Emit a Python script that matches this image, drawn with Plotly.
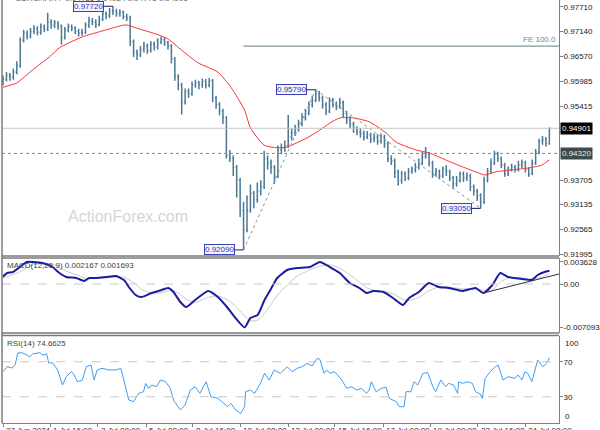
import plotly.graph_objects as go

# ---------------- data ----------------
bar_close = [0.9604, 0.9612, 0.9608, 0.9620, 0.9635, 0.9694, 0.9710, 0.9702, 0.9714, 0.9720,
             0.9712, 0.9725, 0.9720, 0.9735, 0.9728, 0.9732, 0.9725, 0.9700, 0.9718, 0.9725,
             0.9722, 0.9715, 0.9710, 0.9712, 0.9728, 0.9738, 0.9735, 0.9730, 0.9742, 0.9755,
             0.9750, 0.9762, 0.9760, 0.9755, 0.9758, 0.9748, 0.9745, 0.9690, 0.9665, 0.9660,
             0.9672, 0.9680, 0.9670, 0.9685, 0.9678, 0.9690, 0.9695, 0.9688, 0.9680, 0.9650,
             0.9610, 0.9590, 0.9550, 0.9575, 0.9570, 0.9590, 0.9595, 0.9590, 0.9598, 0.9590,
             0.9600, 0.9560, 0.9545, 0.9530, 0.9515, 0.9428, 0.9420, 0.9400, 0.9370, 0.9300,
             0.9255, 0.9300, 0.9340, 0.9325, 0.9345, 0.9355, 0.9420, 0.9410, 0.9400, 0.9380,
             0.9440, 0.9445, 0.9450, 0.9470, 0.9480, 0.9490, 0.9500, 0.9515, 0.9525, 0.9545,
             0.9555, 0.9570, 0.9560, 0.9545, 0.9530, 0.9555, 0.9545, 0.9540, 0.9550, 0.9525,
             0.9510, 0.9500, 0.9490, 0.9482, 0.9478, 0.9470, 0.9475, 0.9465, 0.9470, 0.9460,
             0.9470, 0.9455, 0.9420, 0.9415, 0.9390, 0.9370, 0.9385, 0.9375, 0.9390, 0.9395,
             0.9400, 0.9410, 0.9425, 0.9430, 0.9410, 0.9385, 0.9390, 0.9380, 0.9395, 0.9390,
             0.9375, 0.9362, 0.9370, 0.9385, 0.9375, 0.9380, 0.9355, 0.9345, 0.9335, 0.9320,
             0.9370, 0.9390, 0.9410, 0.9430, 0.9420, 0.9405, 0.9385, 0.9395, 0.9400, 0.9395,
             0.9405, 0.9410, 0.9395, 0.9385, 0.9410, 0.9435, 0.9460, 0.9465, 0.9455, 0.94901]

bar_high = [0.9612, 0.9620, 0.9618, 0.9628, 0.9645, 0.9700, 0.9718, 0.9716, 0.9722, 0.9728,
            0.9726, 0.9732, 0.9730, 0.9757, 0.9742, 0.9740, 0.9738, 0.9730, 0.9724, 0.9732,
            0.9730, 0.9726, 0.9720, 0.9720, 0.9735, 0.9748, 0.9745, 0.9742, 0.9750, 0.9762,
            0.9760, 0.9768, 0.9772, 0.9766, 0.9765, 0.9762, 0.9755, 0.9750, 0.9695, 0.9672,
            0.9680, 0.9690, 0.9686, 0.9692, 0.9690, 0.9698, 0.9702, 0.9700, 0.9692, 0.9685,
            0.9655, 0.9615, 0.9595, 0.9582, 0.9582, 0.9598, 0.9602, 0.9600, 0.9605, 0.9604,
            0.9606, 0.9604, 0.9565, 0.9550, 0.9535, 0.9518, 0.9440, 0.9428, 0.9405, 0.9375,
            0.9320, 0.9335, 0.9360, 0.9345, 0.9365, 0.9370, 0.9438, 0.9428, 0.9418, 0.9405,
            0.9450, 0.9455, 0.9462, 0.9521, 0.9490, 0.9498, 0.9510, 0.9525, 0.9535, 0.9552,
            0.9565, 0.9579, 0.9576, 0.9565, 0.9550, 0.9562, 0.9560, 0.9552, 0.9560, 0.9554,
            0.9530, 0.9518, 0.9505, 0.9495, 0.9490, 0.9485, 0.9484, 0.9480, 0.9478, 0.9476,
            0.9478, 0.9475, 0.9460, 0.9428, 0.9420, 0.9395, 0.9392, 0.9390, 0.9398, 0.9402,
            0.9410, 0.9420, 0.9435, 0.9447, 0.9435, 0.9415, 0.9398, 0.9395, 0.9402, 0.9405,
            0.9395, 0.9380, 0.9380, 0.9390, 0.9390, 0.9388, 0.9385, 0.9360, 0.9350, 0.9340,
            0.9378, 0.9398, 0.9420, 0.9438, 0.9436, 0.9425, 0.9410, 0.9402, 0.9408, 0.9405,
            0.9415, 0.9418, 0.9415, 0.9400, 0.9418, 0.9442, 0.9466, 0.9472, 0.9470, 0.9492]

bar_low = [0.9590, 0.9598, 0.9600, 0.9602, 0.9615, 0.9630, 0.9688, 0.9695, 0.9698, 0.9708,
           0.9705, 0.9706, 0.9712, 0.9715, 0.9720, 0.9722, 0.9718, 0.9683, 0.9695, 0.9712,
           0.9714, 0.9708, 0.9702, 0.9704, 0.9708, 0.9722, 0.9728, 0.9722, 0.9726, 0.9738,
           0.9742, 0.9745, 0.9752, 0.9748, 0.9748, 0.9742, 0.9738, 0.9680, 0.9655, 0.9648,
           0.9655, 0.9665, 0.9662, 0.9665, 0.9670, 0.9672, 0.9684, 0.9680, 0.9672, 0.9640,
           0.9600, 0.9578, 0.9522, 0.9545, 0.9560, 0.9565, 0.9584, 0.9580, 0.9584, 0.9582,
           0.9585, 0.9550, 0.9535, 0.9520, 0.9500, 0.9420, 0.9412, 0.9380, 0.9330, 0.9285,
           0.9209, 0.9250, 0.9295, 0.9305, 0.9318, 0.9335, 0.9350, 0.9395, 0.9385, 0.9362,
           0.9375, 0.9430, 0.9436, 0.9445, 0.9462, 0.9472, 0.9482, 0.9495, 0.9508, 0.9520,
           0.9538, 0.9550, 0.9552, 0.9535, 0.9520, 0.9525, 0.9538, 0.9532, 0.9535, 0.9515,
           0.9500, 0.9490, 0.9480, 0.9474, 0.9468, 0.9462, 0.9465, 0.9456, 0.9458, 0.9452,
           0.9455, 0.9445, 0.9412, 0.9405, 0.9375, 0.9358, 0.9362, 0.9368, 0.9370, 0.9385,
           0.9388, 0.9395, 0.9405, 0.9420, 0.9402, 0.9376, 0.9378, 0.9372, 0.9375, 0.9380,
           0.9368, 0.9350, 0.9355, 0.9365, 0.9366, 0.9368, 0.9345, 0.9335, 0.9322, 0.9305,
           0.9315, 0.9365, 0.9385, 0.9405, 0.9412, 0.9398, 0.9378, 0.9380, 0.9390, 0.9388,
           0.9390, 0.9398, 0.9388, 0.9378, 0.9382, 0.9405, 0.9430, 0.9452, 0.9448, 0.9452]

first_open = 0.9598

ema_bar = [0, 4, 8.6, 13.5, 16.4, 23, 28, 32.9, 35.7, 39.5, 45.2, 48.1, 51.9, 56.8, 62.5,
           66.3, 70.3, 72, 76, 79.8, 82.7, 88.5, 92.2, 95.1, 98, 102, 106.6, 111.5, 114.4,
           120.2, 124, 128.8, 133.7, 138.3, 140.3, 143.2, 148.1, 152.7, 154.8, 156.8, 159]
ema_val = [0.9585, 0.9595, 0.9625, 0.9655, 0.9676, 0.9701, 0.9713, 0.9724, 0.9729, 0.9720,
           0.9706, 0.9696, 0.9671, 0.9641, 0.9620, 0.9585, 0.9532, 0.9491, 0.9451, 0.9445,
           0.9447, 0.9468, 0.9486, 0.9502, 0.9514, 0.9514, 0.9505, 0.9479, 0.9458, 0.9440,
           0.9433, 0.9417, 0.9401, 0.9387, 0.9382, 0.9389, 0.9394, 0.9398, 0.9401, 0.9405,
           0.9417]

macd_bar = [0, 1.2, 2.9, 4.9, 6.9, 8.6, 11.5, 14.4, 16.4, 18.4, 21.3, 23.6, 25.1, 27.1, 30.0,
            32.9, 35.2, 36.6, 38.6, 40.3, 43.2, 46.1, 48.1, 49.6, 51.6, 53.3, 55.9, 59.7, 62.5,
            65.4, 67.4, 70.3, 72.0, 74.1, 76.1, 77.8, 79.8, 82.7, 85.6, 89.3, 92.2, 95.1, 98.0,
            100.9, 103.7, 105.8, 107.8, 110.7, 113.5, 116.4, 118.2, 121.0, 123.9, 126.8, 129.7,
            133.7, 137.5, 139.8, 142.4, 144.7, 147.0, 151.0, 153.9, 155.6, 157.6, 159]
macd_val = [0.00119, 0.00179, 0.00196, 0.00277, 0.00359, 0.00359, 0.00342, 0.00277, 0.00179, 0.00114,
            0.00098, 0.00049, 0.00098, 0.00098, 0.00114, 0.00130, 0.00065, -0.00049, -0.00179, -0.00212,
            -0.00147, -0.00098, -0.00065, -0.00130, -0.00293, -0.00375, -0.00261, -0.00114, -0.00212, -0.00391,
            -0.00538, -0.00709, -0.00554, -0.00505, -0.00261, -0.00098, 0.00098, 0.00228, 0.00261, 0.00277,
            0.00359, 0.00277, 0.00179, 0.00016, -0.00065, -0.00147, -0.00114, -0.00130, -0.00228, -0.00342,
            -0.00228, -0.00130, 0.00016, -0.00049, -0.00065, -0.00114, -0.00065, -0.00147, -0.00016, 0.00179,
            0.00114, 0.00082, 0.00065, 0.00147, 0.00196, 0.002167]
signal_val = [0.00090, 0.00120, 0.00150, 0.00200, 0.00260, 0.00310, 0.00340, 0.00320, 0.00270, 0.00210,
              0.00150, 0.00100, 0.00090, 0.00090, 0.00100, 0.00115, 0.00110, 0.00070, 0.00000, -0.00090,
              -0.00150, -0.00140, -0.00110, -0.00110, -0.00170, -0.00250, -0.00300, -0.00220, -0.00190, -0.00260,
              -0.00350, -0.00520, -0.00600, -0.00590, -0.00480, -0.00350, -0.00180, -0.00020, 0.00130, 0.00230,
              0.00290, 0.00310, 0.00260, 0.00150, 0.00030, -0.00060, -0.00100, -0.00120, -0.00160, -0.00250,
              -0.00270, -0.00220, -0.00110, -0.00050, -0.00050, -0.00080, -0.00080, -0.00100, -0.00100, 0.00030,
              0.00100, 0.00100, 0.00080, 0.00090, 0.00130, 0.001693]
macd_trend_bar = [139.8, 161.8]
macd_trend_val = [-0.00147, 0.00163]

rsi_bar = [0, 1.2, 2.6, 3.5, 4.3, 5.5, 6.9, 7.8, 8.6, 10.7, 11.5, 12.7, 13.3, 14.4, 15.9, 17.3,
           18.4, 19.9, 20.7, 21.6, 23.1, 24.2, 25.6, 26.5, 27.4, 28.8, 30.8, 32.9, 34.3, 35.2,
           36.6, 38.0, 39.5, 40.9, 41.5, 42.4, 43.2, 44.7, 45.8, 47.3, 48.7, 49.6, 51.6, 53.0,
           54.5, 55.9, 57.3, 59.1, 60.5, 62.5, 64.6, 65.4, 66.3, 67.7, 69.2, 70.3, 70.6, 72.0,
           73.2, 74.9, 76.1, 77.5, 78.9, 80.7, 82.7, 84.1, 85.6, 87.0, 88.5, 89.9, 91.4, 92.2,
           93.4, 94.2, 95.1, 96.5, 98.6, 100.0, 101.4, 102.9, 104.3, 105.8, 106.6, 107.2, 108.6,
           110.1, 111.5, 112.4, 114.4, 115.3, 116.7, 117.3, 118.7, 119.6, 120.7, 122.2, 123.6,
           125.1, 125.9, 127.4, 128.8, 129.7, 131.1, 132.3, 132.6, 133.7, 135.2, 136.6, 137.5,
           138.9, 139.5, 140.3, 141.8, 143.2, 144.1, 145.5, 147.0, 149.0, 149.9, 151.0, 151.9,
           152.7, 153.9, 155.6, 157.1, 158.2, 159]
rsi_val = [58.6, 64.4, 62.8, 66.3, 80.0, 80.4, 77.7, 75.8, 78.9, 80.4, 77.7, 78.9, 68.6, 68.9, 60.6, 43.4,
           52.9, 58.7, 54.9, 47.2, 49.1, 64.3, 66.3, 49.1, 60.6, 62.5, 60.6, 60.6, 62.5, 49.1,
           26.3, 24.4, 33.9, 35.8, 45.3, 39.6, 43.4, 41.5, 49.1, 47.2, 39.6, 26.3, 14.9, 20.6,
           37.7, 41.5, 33.9, 47.2, 30.0, 28.2, 20.6, 18.7, 22.5, 14.9, 11.1, 18.7, 35.8, 37.7,
           33.9, 45.3, 56.8, 49.1, 60.6, 56.8, 64.3, 58.6, 62.5, 64.3, 68.2, 65.1, 73.9, 72.8,
           56.8, 60.6, 56.8, 58.6, 49.1, 39.6, 41.5, 37.7, 39.6, 33.9, 37.7, 47.2, 35.8,
           39.6, 40.8, 28.2, 24.4, 18.6, 18.6, 35.8, 35.8, 47.2, 43.4, 56.8, 57.5,
           41.5, 35.8, 49.1, 41.5, 45.3, 43.4, 33.9, 47.2, 45.3, 47.2, 45.3, 35.8,
           33.1, 28.2, 51.0, 58.6, 64.3, 66.3, 49.1, 52.9, 51.0, 54.9, 49.1, 58.6,
           56.8, 47.2, 72.0, 64.3, 68.2, 74.66]

swing_bars = [32, 91, 70, 139]
swing_prices = [0.97720, 0.95790, 0.92090, 0.93050]
trend_bars = [70, 91, 139]
trend_prices = [0.92090, 0.95790, 0.93050]

price_now = 0.94901
level_price = 0.94320
fe_price = 0.9680
fe_start_bar = 70

price_ticks = [0.97710, 0.97140, 0.96570, 0.95985, 0.95415, 0.93705, 0.93135, 0.92565, 0.91995]
macd_ticks = [0.003628, 0.0, -0.007093]
macd_tick_text = ["0.003628", "0.00", "-0.007093"]
rsi_ticks = [70, 30]

time_tick_bars = [0, 13.8, 27.6, 41.7, 55.2, 69, 83, 96.5, 110.6, 124.4, 138.2, 152]
time_tick_labels = ["27 Jun 2024", "1 Jul 16:00", "3 Jul 08:00", "5 Jul 00:00", "8 Jul 16:00",
                    "10 Jul 08:00", "12 Jul 00:00", "15 Jul 16:00", "17 Jul 08:00", "19 Jul 00:00",
                    "22 Jul 16:00", "24 Jul 08:00"]

header_text = "EURCHF,H4  0.94786 0.94924 0.94771 0.94901"
macd_title = "MACD(12,26,9) 0.002167 0.001693"
rsi_title = "RSI(14) 74.6625"
watermark = "ActionForex.com"

# ---------------- figure ----------------
bar_open = [first_open] + bar_close[:-1]
bar_idx = list(range(len(bar_close)))

FONT = "Liberation Sans, Arial, sans-serif"
AX = "#808080"
XR = [-0.3, 161.8]

fig = go.Figure()

fig.add_trace(go.Ohlc(
    x=bar_idx, open=bar_open, high=bar_high, low=bar_low, close=bar_close,
    increasing=dict(line=dict(color="#4a7895", width=1.5)),
    decreasing=dict(line=dict(color="#4a7895", width=1.5)),
    tickwidth=0.3, hoverinfo="skip", xaxis="x", yaxis="y", showlegend=False))

fig.add_trace(go.Scatter(x=ema_bar, y=ema_val, mode="lines", line=dict(color="#ff3030", width=1, shape="spline", smoothing=0.6),
                         hoverinfo="skip", xaxis="x", yaxis="y", showlegend=False))

fig.add_trace(go.Scatter(x=trend_bars[:2], y=trend_prices[:2], mode="lines", line=dict(color="#8a9598", width=1, dash="dot"),
                         hoverinfo="skip", xaxis="x", yaxis="y", showlegend=False))
fig.add_trace(go.Scatter(x=trend_bars[1:], y=trend_prices[1:], mode="lines", line=dict(color="#8a9598", width=1, dash="dot"),
                         hoverinfo="skip", xaxis="x", yaxis="y", showlegend=False))

# MACD
fig.add_trace(go.Scatter(x=macd_bar, y=signal_val, mode="lines", line=dict(color="#c8c8c8", width=1, shape="spline", smoothing=0.5),
                         hoverinfo="skip", xaxis="x2", yaxis="y2", showlegend=False))
fig.add_trace(go.Scatter(x=macd_bar, y=macd_val, mode="lines", line=dict(color="#1c1ca0", width=2, shape="spline", smoothing=0.5),
                         hoverinfo="skip", xaxis="x2", yaxis="y2", showlegend=False))
fig.add_trace(go.Scatter(x=macd_trend_bar, y=macd_trend_val, mode="lines", line=dict(color="#303030", width=1),
                         hoverinfo="skip", xaxis="x2", yaxis="y2", showlegend=False))

# RSI
fig.add_trace(go.Scatter(x=rsi_bar, y=rsi_val, mode="lines", line=dict(color="#3f9cf4", width=1),
                         hoverinfo="skip", xaxis="x3", yaxis="y3", showlegend=False))

H = 423.0
def dom(top_px, bot_px):
    return [1 - bot_px / H, 1 - top_px / H]

yfont = dict(family=FONT, size=8, color="#202020")
common_y = dict(side="right", showgrid=False, zeroline=False, ticks="outside", ticklen=3,
                tickcolor=AX, showline=True, linecolor=AX, linewidth=1, tickfont=yfont, fixedrange=True,
                ticklabelstandoff=-1)
common_x = dict(range=XR, showgrid=False, zeroline=False, showticklabels=False, fixedrange=True)

fig.update_layout(
    width=600, height=430, margin=dict(l=2, r=35, t=0, b=7),
    paper_bgcolor="white", plot_bgcolor="white", showlegend=False,
    xaxis=dict(domain=[0, 1], anchor="y", rangeslider=dict(visible=False), **common_x),
    xaxis2=dict(domain=[0, 1], anchor="y2", matches="x", **common_x),
    xaxis3=dict(domain=[0, 1], anchor="y3", matches="x", ticks="outside", ticklen=3, tickcolor=AX,
                tickvals=time_tick_bars, showline=True, linecolor=AX, **common_x),
    yaxis=dict(domain=dom(0, 256), range=[0.91949, 0.97865], anchor="x",
               tickvals=price_ticks, ticktext=[f"{v:.5f}" for v in price_ticks], **common_y),
    yaxis2=dict(domain=dom(258, 333), range=[-0.007987, 0.004238], anchor="x2",
                tickvals=macd_ticks, ticktext=macd_tick_text, **common_y),
    yaxis3=dict(domain=dom(335.5, 423), range=[0, 100], anchor="x3",
                tickvals=rsi_ticks, ticktext=[str(v) for v in rsi_ticks], **common_y),
)

shapes = []
shapes.append(dict(type="line", xref="x domain", yref="y", x0=0, x1=1, y0=price_now, y1=price_now,
                   line=dict(color="#c4c4c4", width=1)))
shapes.append(dict(type="line", xref="x domain", yref="y", x0=0, x1=1, y0=level_price, y1=level_price,
                   line=dict(color="#7f8a8c", width=1, dash="dot")))
shapes.append(dict(type="line", xref="x", yref="y", x0=fe_start_bar, x1=XR[1], y0=fe_price, y1=fe_price,
                   line=dict(color="#5d7d86", width=1)))
shapes.append(dict(type="line", xref="x2 domain", yref="y2", x0=0, x1=1, y0=0, y1=0,
                   line=dict(color="#c8c8c8", width=1, dash="dash")))
for lv in rsi_ticks:
    shapes.append(dict(type="line", xref="x3 domain", yref="y3", x0=0, x1=1, y0=lv, y1=lv,
                       line=dict(color="#c8c8c8", width=1, dash="dash")))
for yy in [dom(0, 256)[0], dom(258, 333)[1], dom(258, 333)[0], dom(335.5, 423)[1]]:
    shapes.append(dict(type="line", xref="paper", yref="paper", x0=0, x1=1, y0=yy, y1=yy,
                       line=dict(color="#7a7a7a", width=1.5)))
shapes.append(dict(type="line", xref="paper", yref="paper", x0=0, x1=0, y0=0, y1=1,
                   line=dict(color="#7a7a7a", width=1.5)))
fig.update_layout(shapes=shapes)

ann = []
for b, p in zip(swing_bars, swing_prices):
    ann.append(dict(x=b, y=p, xref="x", yref="y", text=f"{p:.5f}", showarrow=True, arrowhead=0,
                    arrowwidth=1, arrowcolor="#1a1a70", ax=-24, ay=0,
                    font=dict(family=FONT, size=8, color="#3434b0"), bgcolor="#f3f3ff",
                    bordercolor="#4040b8", borderwidth=1, borderpad=0))
ann.append(dict(x=1, y=price_now, xref="paper", yref="y", xanchor="left", xshift=1, text=f"{price_now:.5f}",
                showarrow=False, bgcolor="#000000", font=dict(family=FONT, size=8, color="white"), borderpad=1))
ann.append(dict(x=1, y=level_price, xref="paper", yref="y", xanchor="left", xshift=1, text=f"{level_price:.5f}",
                showarrow=False, bgcolor="#3e4b4d", font=dict(family=FONT, size=8, color="#e8e8e8"), borderpad=1))
ann.append(dict(x=1, y=fe_price, xref="paper", yref="y", xanchor="right", yanchor="bottom", xshift=-1,
                text="FE 100.0", showarrow=False, font=dict(family=FONT, size=8, color="#6088a0")))
ann.append(dict(x=1, y=1, xref="paper", yref="y3 domain", xanchor="left", yanchor="top", xshift=4, yshift=-1,
                text="100", showarrow=False, font=yfont))
ann.append(dict(x=1, y=0, xref="paper", yref="y3 domain", xanchor="left", yanchor="bottom", xshift=4, yshift=0,
                text="0", showarrow=False, font=yfont))
ann.append(dict(x=0.005, y=1, xref="paper", yref="y2 domain", xanchor="left", yanchor="top", yshift=-1,
                text=macd_title, showarrow=False, font=dict(family=FONT, size=8, color="#404040")))
ann.append(dict(x=0.005, y=1, xref="paper", yref="y3 domain", xanchor="left", yanchor="top", yshift=-1,
                text=rsi_title, showarrow=False, font=dict(family=FONT, size=8, color="#404040")))
ann.append(dict(x=0.021, y=1, xref="paper", yref="paper", xanchor="left", yanchor="middle", yshift=2,
                text=header_text, showarrow=False, font=dict(family=FONT, size=8, color="#606060")))
ann.append(dict(x=0.227, y=0.489, xref="paper", yref="paper", xanchor="center", yanchor="middle",
                text=watermark, showarrow=False, font=dict(family=FONT, size=16, color="#d4d4d4")))
for b, t in zip(time_tick_bars, time_tick_labels):
    ann.append(dict(x=b, y=0, xref="x3", yref="paper", xanchor="left", yanchor="top", yshift=-1, xshift=1,
                    text=t, showarrow=False, font=dict(family=FONT, size=8, color="#303030")))
fig.update_layout(annotations=ann)

fig.write_html("out.html", config={"displayModeBar": False},
               post_script="document.body.style.margin='0';document.body.style.overflow='hidden';")
